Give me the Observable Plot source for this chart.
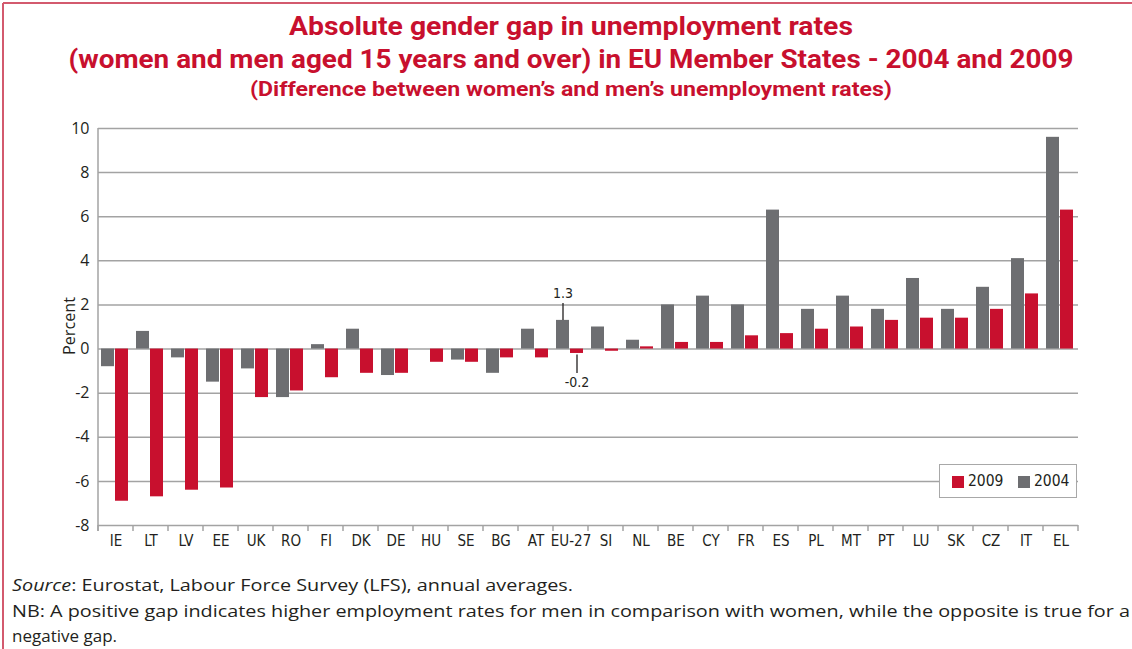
<!DOCTYPE html>
<html>
<head>
<meta charset="utf-8">
<script src="https://cdn.jsdelivr.net/npm/d3@7"></script>
<script src="https://cdn.jsdelivr.net/npm/@observablehq/plot@0.6"></script>
<style>
  body { margin: 0; background: #fff; }
  #page { position: relative; width: 1132px; height: 649px; overflow: hidden; background: #fff; }
  #deco { position: absolute; left: 0; top: 0; }
  #chart { position: absolute; left: 0; top: 110px; }
  #legend { position: absolute; left: 939px; top: 464px; width: 136px; height: 32px;
            border: 1.5px solid #a8a8a8; background: #fff;
            font-family: "DejaVu Sans Condensed", "Liberation Sans Narrow", Roboto, sans-serif;
            font-stretch: condensed; font-size: 15.5px; color: #231f20; }
  #legend .sw { position: absolute; top: 11px; width: 12px; height: 12px; }
  #legend .lb { position: absolute; top: 7px; line-height: 18px; }
</style>
</head>
<body>
<div id="page">
  <svg id="deco" width="1132" height="649"></svg>
  <div id="chart"></div>
  <div id="legend"></div>
</div>
<script>
// ---------- data ----------
const countries = ["IE","LT","LV","EE","UK","RO","FI","DK","DE","HU","SE","BG","AT","EU-27",
                   "SI","NL","BE","CY","FR","ES","PL","MT","PT","LU","SK","CZ","IT","EL"];
const gap2004 = [-0.8, 0.8, -0.4, -1.5, -0.9, -2.2, 0.2, 0.9, -1.2, 0.0, -0.5, -1.1, 0.9, 1.3,
                 1.0, 0.4, 2.0, 2.4, 2.0, 6.3, 1.8, 2.4, 1.8, 3.2, 1.8, 2.8, 4.1, 9.6];
const gap2009 = [-6.9, -6.7, -6.4, -6.3, -2.2, -1.9, -1.3, -1.1, -1.1, -0.6, -0.6, -0.4, -0.4, -0.2,
                 -0.1, 0.1, 0.3, 0.3, 0.6, 0.7, 0.9, 1.0, 1.3, 1.4, 1.4, 1.8, 2.5, 6.3];
const years = ["2004", "2009"];
const legendYears = ["2009", "2004"];
const yTicks = [-8, -6, -4, -2, 0, 2, 4, 6, 8, 10];
const highlighted = "EU-27";
const titleLines = [
  "Absolute gender gap in unemployment rates",
  "(women and men aged 15 years and over) in EU Member States - 2004 and 2009",
  "(Difference between women\u2019s and men\u2019s unemployment rates)"
];
const yLabel = "Percent";
const sourceLabel = "Source";
const sourceText = ": Eurostat, Labour Force Survey (LFS), annual averages.";
const nbLine1 = "NB: A positive gap indicates higher employment rates for men in comparison with women, while the opposite is true for a";
const nbLine2 = "negative gap.";

const RED = "#c8102e", GREY = "#6d6e71", INK = "#231f20", GRID = "#a3a3a3";
const COND = "'DejaVu Sans Condensed', 'Liberation Sans Narrow', Roboto, sans-serif";

const table = countries.flatMap((c, i) => [
  {country: c, year: "2004", value: gap2004[i]},
  {country: c, year: "2009", value: gap2009[i]}
]);
const notes = table.filter(d => d.country === highlighted);
const notesUp = notes.filter(d => d.value >= 0);
const notesDown = notes.filter(d => d.value < 0);

// ---------- chart ----------
const plot = Plot.plot({
  width: 1132, height: 450,
  marginTop: 18, marginBottom: 35, marginLeft: 84, marginRight: 41,
  style: {background: "transparent", color: INK, fontFamily: "'Open Sans', sans-serif"},
  fx: {domain: countries, padding: 0},
  x: {domain: years, paddingInner: 0.07, paddingOuter: 0.26, align: 0.4, axis: null},
  y: {domain: [-8, 10]},
  color: {domain: legendYears, range: [RED, GREY]},
  marks: [
    Plot.ruleY(yTicks, {stroke: GRID, strokeWidth: 1.5}),
    Plot.barY(table, {fx: "country", x: "year", y: "value", fill: "year"}),
    Plot.ruleX(notesUp, {fx: "country", x: "year", y1: "value", y2: "value", insetTop: -17, stroke: INK, strokeWidth: 1.3}),
    Plot.ruleX(notesDown, {fx: "country", x: "year", y1: "value", y2: "value", insetTop: 1.5, insetBottom: -20, stroke: INK, strokeWidth: 1.3}),
    Plot.text(notesUp, {fx: "country", x: "year", y: "value", text: d => String(d.value), dy: -27, fontSize: 14, fontFamily: COND, fill: INK}),
    Plot.text(notesDown, {fx: "country", x: "year", y: "value", text: d => String(d.value), dy: 29, fontSize: 14, fontFamily: COND, fill: INK}),
    Plot.axisY({ticks: yTicks, tickSize: 0, tickPadding: 9, label: null, fontSize: 16, tickFormat: d => String(d)}),
    Plot.axisFx({anchor: "bottom", tickSize: 0, tickPadding: 10, label: null, fontSize: 15, fontFamily: COND})
  ]
});
document.getElementById("chart").appendChild(plot);

// axis line and category separator ticks from the library's scales
const fxs = plot.scale("fx"), ys = plot.scale("y");
const yBottom = ys.apply(-8), yTop = ys.apply(10);
const edges = countries.map(c => fxs.apply(c));
edges.push(fxs.apply(countries[countries.length - 1]) + fxs.bandwidth);
const svg = d3.select(plot);
const g = svg.append("g").attr("stroke", GRID).attr("stroke-width", 1.5);
g.append("line").attr("x1", edges[0]).attr("x2", edges[0]).attr("y1", yTop).attr("y2", yBottom + 6);
g.selectAll(".sep").data(edges).join("line")
  .attr("x1", d => d).attr("x2", d => d).attr("y1", yBottom).attr("y2", yBottom + 6);

// ---------- titles, notes, frame ----------
const deco = d3.select("#deco");
deco.append("line").attr("x1", 3).attr("x2", 1132).attr("y1", 3).attr("y2", 3).attr("stroke", "#d35a6e").attr("stroke-width", 2);
deco.append("line").attr("x1", 3).attr("x2", 3).attr("y1", 3).attr("y2", 649).attr("stroke", "#d35a6e").attr("stroke-width", 2);

const titleSpec = [
  {y: 35, size: 25, len: 564},
  {y: 68, size: 25, len: 1005},
  {y: 96, size: 19.5, len: 642}
];
titleLines.forEach((t, i) => {
  deco.append("text").text(t)
    .attr("x", 571).attr("y", titleSpec[i].y)
    .attr("text-anchor", "middle")
    .attr("font-family", "Roboto, sans-serif").attr("font-weight", "bold")
    .attr("font-size", titleSpec[i].size).attr("fill", RED)
    .attr("textLength", titleSpec[i].len).attr("lengthAdjust", "spacingAndGlyphs");
});

const foot = {family: "'Open Sans', sans-serif", size: 17, fill: INK};
const s = deco.append("text").attr("x", 12).attr("y", 591)
  .attr("font-family", foot.family).attr("font-size", foot.size).attr("fill", foot.fill)
  .attr("textLength", 561).attr("lengthAdjust", "spacingAndGlyphs");
s.append("tspan").attr("font-style", "italic").text(sourceLabel);
s.append("tspan").text(sourceText);
deco.append("text").attr("x", 12).attr("y", 617).text(nbLine1)
  .attr("font-family", foot.family).attr("font-size", foot.size).attr("fill", foot.fill)
  .attr("textLength", 1118).attr("lengthAdjust", "spacingAndGlyphs");
deco.append("text").attr("x", 12).attr("y", 642).text(nbLine2)
  .attr("font-family", foot.family).attr("font-size", foot.size).attr("fill", foot.fill);

deco.append("text").text(yLabel)
  .attr("transform", "translate(75,326) rotate(-90)")
  .attr("text-anchor", "middle")
  .attr("font-family", "'Open Sans', sans-serif").attr("font-size", 16.5).attr("fill", INK)
  .attr("textLength", 58).attr("lengthAdjust", "spacingAndGlyphs");

// ---------- legend ----------
const colorScale = plot.scale("color");
const legend = d3.select("#legend");
const legendPos = [{sw: 12, lb: 28}, {sw: 78, lb: 94}];
legendYears.forEach((yr, i) => {
  legend.append("div").attr("class", "sw").style("left", legendPos[i].sw + "px").style("background", colorScale.apply(yr));
  legend.append("div").attr("class", "lb").style("left", legendPos[i].lb + "px").text(yr);
});
</script>
</body>
</html>
